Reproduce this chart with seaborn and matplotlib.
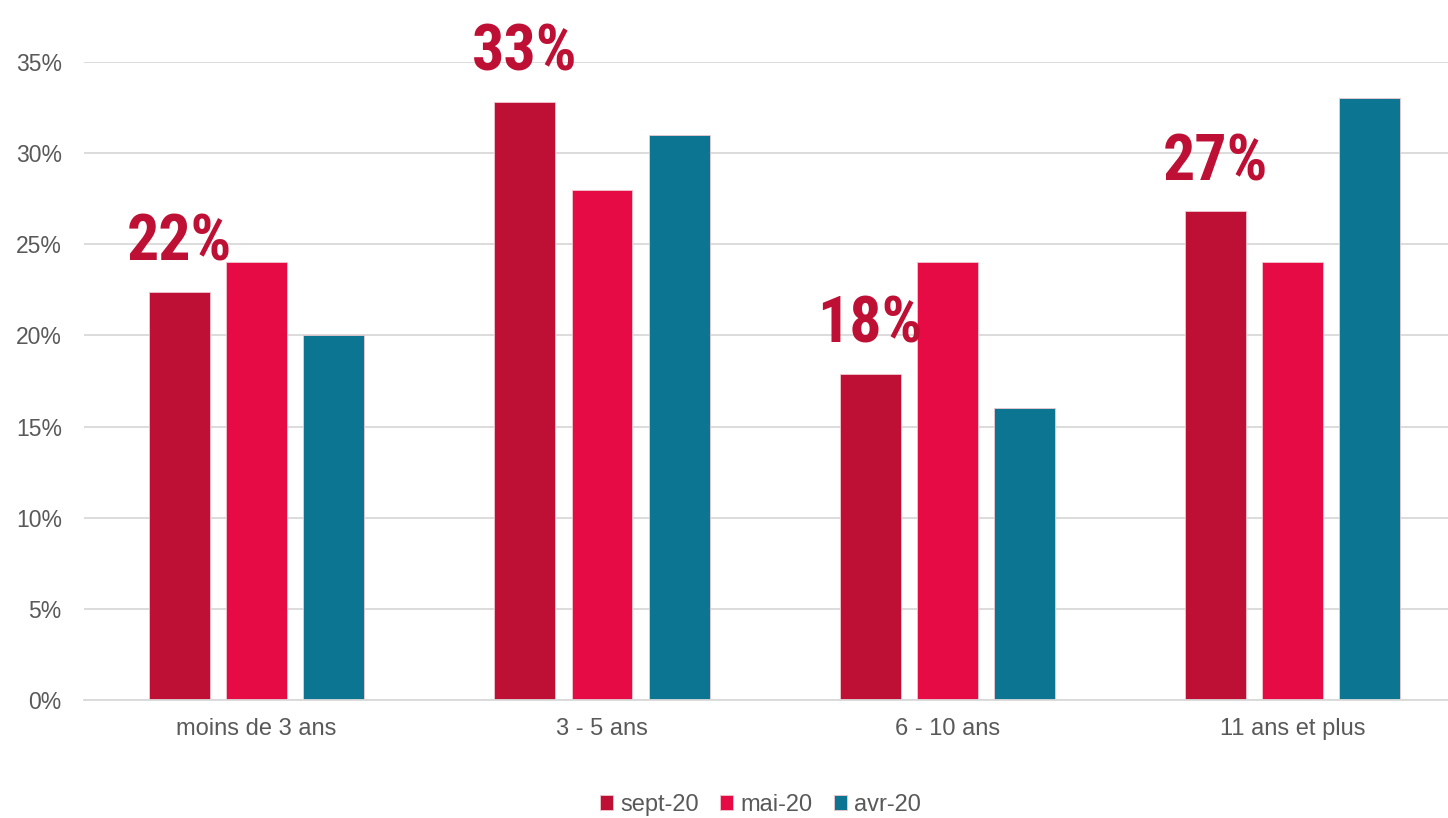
import matplotlib
matplotlib.use("Agg")
import matplotlib.pyplot as plt
import seaborn as sns
import pandas as pd
import numpy as np
from matplotlib.ticker import FuncFormatter
from matplotlib import font_manager

categories = ["moins de 3 ans", "3 - 5 ans", "6 - 10 ans", "11 ans et plus"]
series = ["sept-20", "mai-20", "avr-20"]
sept_20 = [22.4, 32.8, 17.9, 26.8]
mai_20 = [24.0, 28.0, 24.0, 24.0]
avr_20 = [20.0, 31.0, 16.0, 33.0]
labels_sept = ["22%", "33%", "18%", "27%"]
colors = ["#BE1034", "#E60A45", "#0C7592"]

df = pd.DataFrame({
    "cat": categories * 3,
    "serie": [s for s in series for _ in categories],
    "val": sept_20 + mai_20 + avr_20,
})

sns.set_theme(style="white")
names = {f.name for f in font_manager.fontManager.ttflist}
base_font = "Liberation Sans" if "Liberation Sans" in names else "DejaVu Sans"
label_font = base_font
for cand in ["Roboto Condensed", "Open Sans Condensed", "Liberation Sans Narrow",
             "DejaVu Sans Condensed", "Noto Sans Condensed"]:
    if cand in names:
        label_font = cand
        break
plt.rcParams["font.family"] = [base_font, "DejaVu Sans"]

fig = plt.figure(figsize=(14.48, 8.18), dpi=100)
ax = fig.add_axes([0.058, 0.1443, 0.942, 0.78])

sns.barplot(data=df, x="cat", y="val", hue="serie", palette=colors,
            width=0.67, gap=0.21, ax=ax, edgecolor="#f0c8d0", linewidth=0.6,
            saturation=1)

ax.set_ylim(0, 35)
ax.set_xlim(-0.5, 3.45)
ax.set_yticks(np.arange(0, 36, 5))
ax.yaxis.set_major_formatter(FuncFormatter(lambda v, p: f"{v:.0f}%"))
ax.grid(axis="y", color="#d9d9d9", linewidth=1.3)
ax.set_axisbelow(True)
for s in ["top", "right", "left"]:
    ax.spines[s].set_visible(False)
ax.spines["bottom"].set_color("#d9d9d9")
ax.spines["bottom"].set_linewidth(1.3)
ax.tick_params(axis="both", length=0, labelsize=16.5, colors="#595959")
ax.tick_params(axis="x", labelsize=17, pad=13)
ax.tick_params(axis="y", pad=16)
ax.set_xlabel("")
ax.set_ylabel("")

# labels above sept bars
sept_bars = ax.containers[0]
for bar, txt in zip(sept_bars, labels_sept):
    cx = bar.get_x() + bar.get_width() / 2
    ax.annotate(txt, (cx, bar.get_height()), xytext=(0, 22.5), textcoords="offset points",
                ha="center", va="baseline", fontsize=46, fontweight="bold",
                color="#BE1034", family=[label_font, "DejaVu Sans"])

leg = ax.legend(loc="upper center", bbox_to_anchor=(0.496, -0.114), ncol=3, frameon=False,
                fontsize=17, handlelength=0.55, handleheight=0.55, handletextpad=0.3,
                columnspacing=0.9, labelcolor="#595959")

fig.savefig("out.png", dpi=100)
